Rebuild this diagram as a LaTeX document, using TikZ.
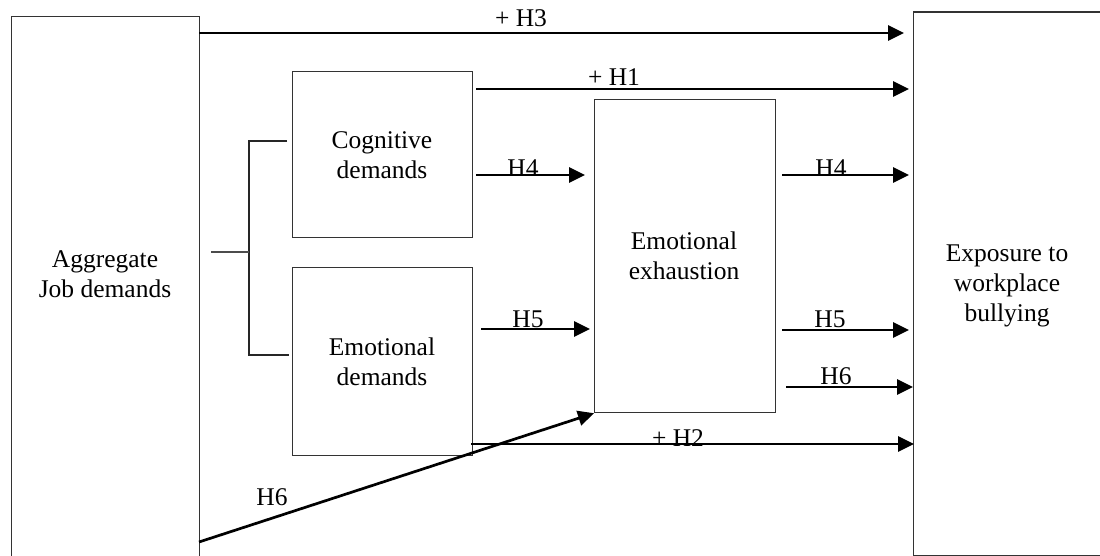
\documentclass[tikz,border=0pt]{standalone}
\usepackage{fontspec}
\setmainfont{Liberation Serif}
\usetikzlibrary{arrows.meta}
\begin{document}
\begin{tikzpicture}[x=1pt,y=-1pt,
  box/.style={draw=black!80, line width=1.2pt, rectangle, inner sep=0pt, anchor=north west},
  txt/.style={font=\fontsize{25.5}{30}\selectfont, align=center, anchor=base, inner sep=0pt},
  lab/.style={font=\fontsize{25.5}{30}\selectfont, anchor=base, inner sep=0pt},
  arr/.style={line width=2.7pt, -{Triangle[length=16pt,width=15pt]}},
  brk/.style={line width=1.2pt, draw=black!85}]
\useasboundingbox (0,0) rectangle (1100,556);
\fill[white] (0,0) rectangle (1100,556);
% boxes
\node[box, minimum width=188pt, minimum height=546pt] (agg) at (11,16) {};
\node[box, minimum width=180pt, minimum height=166pt] (cog) at (292,71) {};
\node[box, minimum width=180pt, minimum height=188pt] (emo) at (292,267) {};
\node[box, minimum width=181pt, minimum height=313pt] (exh) at (594,99) {};
\node[box, minimum width=200pt, minimum height=543.5pt] (bul) at (913,11.5) {};
% texts (base anchor = last line baseline)
\node[txt] (aggT) at (105,297) {Aggregate\\Job demands};
\node[txt] (cogT) at (382,179) {Cognitive\\demands};
\node[txt] (emoT) at (382,385) {Emotional\\demands};
\node[txt] (exhT) at (684,279) {Emotional\\exhaustion};
\node[txt] (bulT) at (1007,321) {Exposure to\\workplace\\bullying};
% bracket
\coordinate (bt) at (249,141);
\coordinate (bb) at (249,355);
\coordinate (bct) at (287,141);
\coordinate (bcb) at (289,355);
\coordinate (bm) at (249,252);
\coordinate (bs) at (211,252);
\draw[brk] (bct) -- (bt) -- (bb) -- (bcb);
\draw[line width=2pt, draw=black!70] (bs) -- (bm);
% arrow coordinates
\coordinate (h3s) at (199,33);   \coordinate (h3e) at (904,33);
\coordinate (h1s) at (476,89);   \coordinate (h1e) at (909,89);
\coordinate (h4as) at (476,175); \coordinate (h4ae) at (585,175);
\coordinate (h4bs) at (782,175); \coordinate (h4be) at (909,175);
\coordinate (h5as) at (481,329); \coordinate (h5ae) at (590,329);
\coordinate (h5bs) at (782,330); \coordinate (h5be) at (909,330);
\coordinate (h6bs) at (786,387); \coordinate (h6be) at (913,387);
\coordinate (h2s) at (471,444);  \coordinate (h2e) at (914,444);
\coordinate (h6as) at (199,542);
\draw[arr] (h3s) -- (h3e);
\draw[arr] (h1s) -- (h1e);
\draw[arr] (h4as) -- (h4ae);
\draw[arr] (h4bs) -- (h4be);
\draw[arr] (h5as) -- (h5ae);
\draw[arr] (h5bs) -- (h5be);
\draw[arr] (h6bs) -- (h6be);
\draw[arr] (h2s) -- (h2e);
\draw[arr] (h6as) -- (exh.south west);
% labels
\node[lab] (l3) at (521,27) {+ H3};
\node[lab] (l1) at (614,86) {+ H1};
\node[lab] (l4a) at (523,177) {H4};
\node[lab] (l4b) at (831,177) {H4};
\node[lab] (l5a) at (528,327) {H5};
\node[lab] (l5b) at (830,327) {H5};
\node[lab] (l6b) at (836,384) {H6};
\node[lab] (l2) at (678,446) {+ H2};
\node[lab] (l6a) at (272,505) {H6};
\end{tikzpicture}
\end{document}
